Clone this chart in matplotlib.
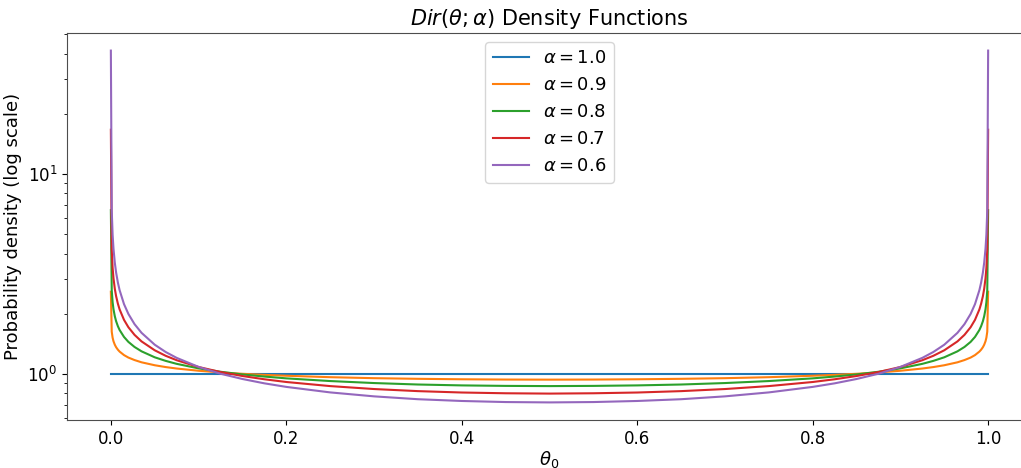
import matplotlib
matplotlib.use('Agg')
from matplotlib import pyplot as plt

# theta grid and densities (symmetric about 0.5)
theta = [0.00001, 0.001, 0.002, 0.003, 0.0045, 0.006, 0.008, 0.01, 0.015, 0.02,
         0.027, 0.035, 0.05, 0.0625, 0.075, 0.1, 0.125, 0.15, 0.175, 0.2,
         0.25, 0.3, 0.35, 0.4, 0.45, 0.5,
         0.55, 0.6, 0.65, 0.7, 0.75, 0.8, 0.825, 0.85, 0.875, 0.9,
         0.925, 0.9375, 0.95, 0.965, 0.973, 0.98, 0.985, 0.99, 0.992, 0.994,
         0.9955, 0.997, 0.998, 0.999, 0.99999]

dens_10 = [1.0] * 51
dens_09 = [2.579, 1.627, 1.519, 1.458, 1.401, 1.361, 1.323, 1.294, 1.243, 1.208,
           1.174, 1.144, 1.106, 1.083, 1.065, 1.038, 1.018, 1.002, 0.990, 0.980,
           0.964, 0.953, 0.946, 0.941, 0.938, 0.937,
           0.938, 0.941, 0.946, 0.953, 0.964, 0.980, 0.990, 1.002, 1.018, 1.038,
           1.065, 1.083, 1.106, 1.144, 1.174, 1.208, 1.243, 1.294, 1.323, 1.361,
           1.401, 1.458, 1.519, 1.627, 2.579]
dens_08 = [6.594, 2.625, 2.286, 2.108, 1.945, 1.836, 1.734, 1.659, 1.532, 1.447,
           1.365, 1.298, 1.212, 1.163, 1.124, 1.067, 1.026, 0.995, 0.971, 0.951,
           0.922, 0.901, 0.886, 0.877, 0.872, 0.870,
           0.872, 0.877, 0.886, 0.901, 0.922, 0.951, 0.971, 0.995, 1.026, 1.067,
           1.124, 1.163, 1.212, 1.298, 1.365, 1.447, 1.532, 1.659, 1.734, 1.836,
           1.945, 2.108, 2.286, 2.625, 6.594]
dens_07 = [16.65, 4.184, 3.400, 3.011, 2.668, 2.448, 2.247, 2.102, 1.865, 1.713,
           1.569, 1.455, 1.314, 1.233, 1.172, 1.084, 1.023, 0.977, 0.941, 0.912,
           0.870, 0.841, 0.821, 0.808, 0.801, 0.798,
           0.801, 0.808, 0.821, 0.841, 0.870, 0.912, 0.941, 0.977, 1.023, 1.084,
           1.172, 1.233, 1.314, 1.455, 1.569, 1.713, 1.865, 2.102, 2.247, 2.448,
           2.668, 3.011, 3.400, 4.184, 16.65]
dens_06 = [41.40, 6.566, 4.977, 4.234, 3.602, 3.213, 2.866, 2.623, 2.235, 1.996,
           1.775, 1.606, 1.401, 1.288, 1.204, 1.085, 1.003, 0.944, 0.898, 0.862,
           0.809, 0.773, 0.748, 0.733, 0.724, 0.721,
           0.724, 0.733, 0.748, 0.773, 0.809, 0.862, 0.898, 0.944, 1.003, 1.085,
           1.204, 1.288, 1.401, 1.606, 1.775, 1.996, 2.235, 2.623, 2.866, 3.213,
           3.602, 4.234, 4.977, 6.566, 41.40]

alphas = ['1.0', '0.9', '0.8', '0.7', '0.6']
series = [dens_10, dens_09, dens_08, dens_07, dens_06]

fig = plt.figure(figsize=(10.21, 4.68), dpi=100)
ax = fig.add_axes([67 / 1021, 1 - 420 / 468, 965 / 1021, 387 / 468])

for a, d in zip(alphas, series):
    ax.plot(theta, d, lw=1.5, label=rf'$\alpha = {a}$')

ax.set_yscale('log')
ax.set_title(r'$Dir(\theta;\alpha)$ Density Functions', fontsize=15)
ax.set_xlabel(r'$\theta_0$', fontsize=13, labelpad=1)
ax.set_ylabel('Probability density (log scale)', fontsize=13)
ax.tick_params(labelsize=12)
for s in ax.spines.values():
    s.set_color('0.3')
ax.legend(loc='upper center', fontsize=13)

fig.savefig('out.png', dpi=100)
